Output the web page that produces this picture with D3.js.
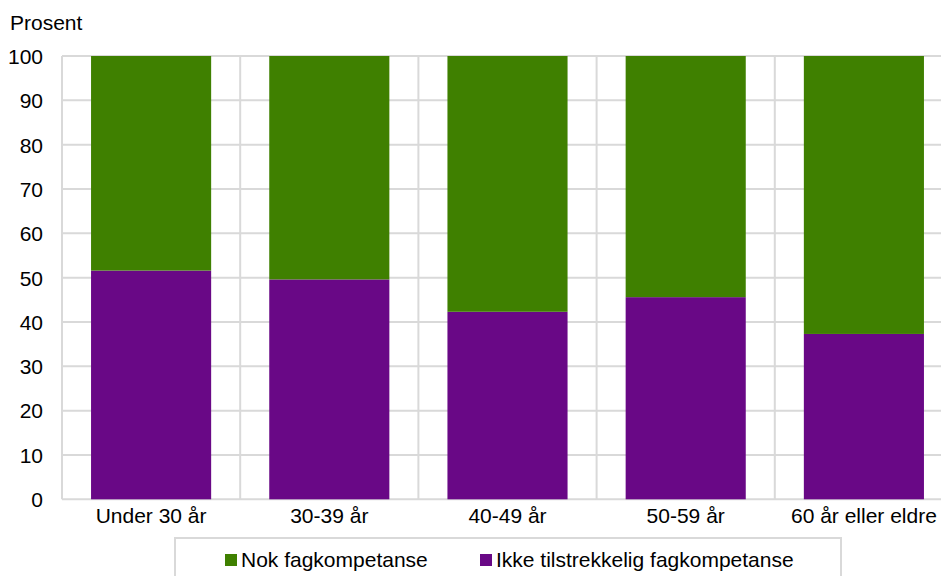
<!DOCTYPE html>
<html><head><meta charset="utf-8">
<script src="https://cdn.jsdelivr.net/npm/d3@7"></script>
<style>body{margin:0;background:#fff}svg{display:block;font-family:"Liberation Sans",Arial,sans-serif}</style>
</head><body><svg id="c" width="941" height="576"></svg>
<script>
const categories = ["Under 30 år","30-39 år","40-49 år","50-59 år","60 år eller eldre"];
const ikke = [51.6, 49.6, 42.3, 45.6, 37.3];
const nok = ikke.map(v => 100 - v);
const yTicks = [0,10,20,30,40,50,60,70,80,90,100];
const seriesNames = ["Nok fagkompetanse","Ikke tilstrekkelig fagkompetanse"];
const colors = {nok:"#3F8000", ikke:"#690886"};

const FS = 21;
const svg = d3.select("#c");
const x = d3.scaleBand().domain(categories).range([62, 953]).paddingInner(0.326).paddingOuter(0.163);
const y = d3.scaleLinear().domain([0,100]).range([499.3, 56]);
const grid = "#d9d9d9";

svg.append("g").selectAll("line").data(yTicks).join("line")
  .attr("x1", 62).attr("x2", 953).attr("y1", d=>y(d)).attr("y2", d=>y(d))
  .attr("stroke", grid).attr("stroke-width", 2);
const step = x.step();
svg.append("g").selectAll("line").data(d3.range(categories.length+1)).join("line")
  .attr("x1", i=>62+i*step).attr("x2", i=>62+i*step).attr("y1", y(100)).attr("y2", y(0))
  .attr("stroke", grid).attr("stroke-width", 2);

const data = categories.map((c,i)=>({c, ikke:ikke[i], nok:nok[i]}));
const stack = d3.stack().keys(["ikke","nok"])(data);
svg.append("g").selectAll("g").data(stack).join("g")
  .attr("fill", s=>colors[s.key])
  .selectAll("rect").data(s=>s).join("rect")
  .attr("x", d=>x(d.data.c)).attr("width", x.bandwidth())
  .attr("y", d=>y(d[1])).attr("height", d=>y(d[0])-y(d[1]));

const yAxis = d3.axisLeft(y).tickValues(yTicks).tickSize(0).tickPadding(19);
const ya = svg.append("g").attr("transform","translate(62,0)").call(yAxis);
ya.select(".domain").remove();
ya.attr("font-size", FS).attr("font-family", null);
ya.selectAll("text").attr("fill","#000").attr("dy","0.35em");

const xAxis = d3.axisBottom(x).tickSize(0);
const xa = svg.append("g").attr("transform","translate(0,499.3)").call(xAxis);
xa.select(".domain").remove();
xa.attr("font-size", FS).attr("font-family", null);
xa.selectAll("text").attr("fill","#000").attr("dy", null).attr("y", 24);

svg.append("text").attr("x",10).attr("y",30).attr("font-size",FS).text("Prosent");

svg.append("rect").attr("x",175).attr("y",538).attr("width",666).attr("height",50)
  .attr("fill","#fff").attr("stroke",grid).attr("stroke-width",2);
const leg = [{n:seriesNames[0],c:colors.nok,x:225},{n:seriesNames[1],c:colors.ikke,x:480}];
const lg = svg.append("g").selectAll("g").data(leg).join("g");
lg.append("rect").attr("x",d=>d.x).attr("y",554).attr("width",12).attr("height",12).attr("fill",d=>d.c);
lg.append("text").attr("x",d=>d.x+16).attr("y",567).attr("font-size",FS).text(d=>d.n);
</script></body></html>
